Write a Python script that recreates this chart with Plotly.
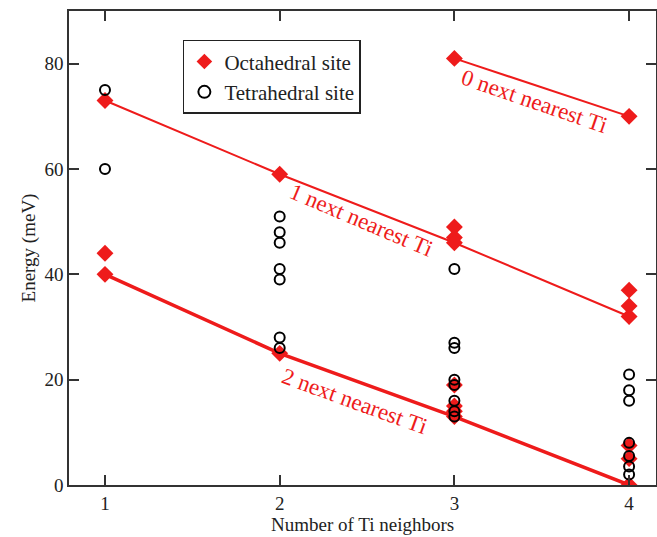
import plotly.graph_objects as go

# ---- data ----
octa_x = [1, 1, 1, 2, 2, 3, 3, 3, 3, 3, 3, 3, 3, 4, 4, 4, 4, 4, 4, 4]
octa_y = [73, 44, 40, 59, 25, 81, 49, 47, 46, 19, 15, 14, 13, 70, 37, 34, 32, 7.5, 5, 0]

tetra_x = [1, 1, 2, 2, 2, 2, 2, 2, 2, 3, 3, 3, 3, 3, 3, 3, 3, 4, 4, 4, 4, 4, 4, 4]
tetra_y = [75, 60, 51, 48, 46, 41, 39, 28, 26, 41, 27, 26, 20, 19, 16, 14, 13, 21, 18, 16, 8, 5.5, 3.5, 2]

line0_x = [3, 4]
line0_y = [81, 70]
line1_x = [1, 2, 3, 4]
line1_y = [73, 59, 46, 32]
line2_x = [1, 2, 3, 4]
line2_y = [40, 25, 13, 0]

x_ticks = [1, 2, 3, 4]
y_ticks = [0, 20, 40, 60, 80]

RED = "#ee1b1b"
FONT = "Liberation Serif"
INK = "#222222"

M_T, M_B = 11, 52
PLOT_H = 537 - M_T - M_B

fig = go.Figure()
fig.add_trace(go.Scatter(x=line0_x, y=line0_y, mode="lines", line=dict(color=RED, width=2), showlegend=False, hoverinfo="skip"))
fig.add_trace(go.Scatter(x=line1_x, y=line1_y, mode="lines", line=dict(color=RED, width=2), showlegend=False, hoverinfo="skip"))
fig.add_trace(go.Scatter(x=line2_x, y=line2_y, mode="lines", line=dict(color=RED, width=3.5), showlegend=False, hoverinfo="skip"))
fig.add_trace(go.Scatter(x=octa_x, y=octa_y, mode="markers", name="Octahedral site",
                         marker=dict(symbol="diamond", size=13, color=RED, line=dict(width=0))))
fig.add_trace(go.Scatter(x=tetra_x, y=tetra_y, mode="markers", name="Tetrahedral site",
                         marker=dict(symbol="circle-open", size=10, color="black", line=dict(width=2, color="black"))))

ann_style = dict(showarrow=False, font=dict(family=FONT, size=23, color=RED), xref="x", yref="y")
fig.add_annotation(x=3.46, y=72.8, text="0 next nearest Ti", textangle=19, **ann_style)
fig.add_annotation(x=2.47, y=50.3, text="1 next nearest Ti", textangle=23, **ann_style)
fig.add_annotation(x=2.43, y=15.8, text="2 next nearest Ti", textangle=20, **ann_style)

# x-axis title placed as a paper annotation at the bottom of the figure
fig.add_annotation(x=0.5, xref="paper", y=-M_B / PLOT_H, yref="paper", yanchor="bottom",
                   text="Number of Ti neighbors", showarrow=False,
                   font=dict(family=FONT, size=19, color=INK))

axis_common = dict(showline=True, linecolor="#333333", linewidth=1.5, mirror="ticks",
                   ticks="inside", ticklen=10, tickwidth=1.5, tickcolor="#333333",
                   showgrid=False, zeroline=False, automargin=False,
                   tickfont=dict(family=FONT, size=19, color=INK))

fig.update_xaxes(range=[0.794, 4.154], tickvals=x_ticks, **axis_common)
fig.update_yaxes(range=[0, 90], tickvals=y_ticks,
                 title=dict(text="Energy (meV)", font=dict(family=FONT, size=19, color=INK), standoff=4),
                 **axis_common)

fig.update_layout(
    width=657, height=537,
    margin=dict(l=69, r=1, t=M_T, b=M_B),
    plot_bgcolor="white", paper_bgcolor="white",
    legend=dict(x=0.194, y=0.939, xanchor="left", yanchor="top",
                bordercolor=INK, borderwidth=1.5, bgcolor="white",
                font=dict(family=FONT, size=21, color=INK),
                itemsizing="constant", tracegroupgap=0, itemwidth=30),
)

fig.write_html("out.html")
